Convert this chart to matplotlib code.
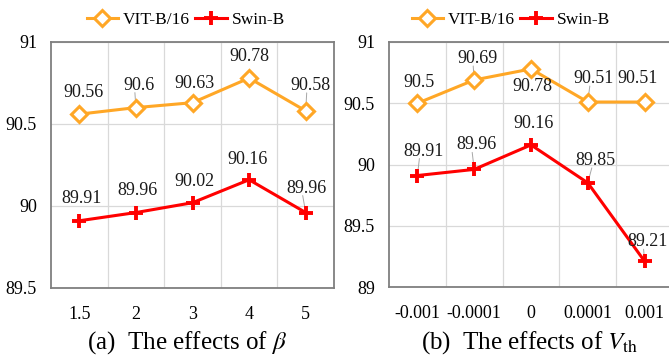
import numpy as np
import matplotlib
matplotlib.use("Agg")
import matplotlib.pyplot as plt
from matplotlib.lines import Line2D

plt.rcParams['font.family'] = ['Liberation Serif', 'DejaVu Serif']
plt.rcParams['mathtext.fontset'] = 'stix'

# ================= DATA =================
beta_labels = ['1.5', '2', '3', '4', '5']
beta_vit = [90.56, 90.6, 90.63, 90.78, 90.58]
beta_swin = [89.91, 89.96, 90.02, 90.16, 89.96]

vth_labels = ['-0.001', '-0.0001', '0', '0.0001', '0.001']
vth_vit = [90.5, 90.69, 90.78, 90.51, 90.51]
vth_swin = [89.91, 89.96, 90.16, 89.85, 89.21]

# label offsets in pixels (dx, dy), dy<0 means label below the point
beta_vit_off = [(4, 13), (3, 14), (2, 11), (0, 13), (5, 17)]
beta_swin_off = [(2, 14), (2, 14), (2, 13), (-2, 12), (1, 16)]
vth_vit_off = [(2, 12), (3, 13), (1, -9), (6, 15), (-7, 15)]
vth_swin_off = [(6, 16), (2, 16), (3, 13), (8, 14), (3, 11)]

# which labels get a small leader line
beta_vit_lead = [0, 1, 0, 0, 1]
beta_swin_lead = [0, 0, 0, 0, 1]
vth_vit_lead = [0, 1, 0, 1, 0]
vth_swin_lead = [1, 1, 0, 1, 1]

ORANGE = '#FFA726'
RED = '#FF0000'
GRID = '#D9D9D9'
SPINE = '#7F7F7F'

fig = plt.figure(figsize=(6.69, 3.6), dpi=100)

W, H = 669, 360


def px_axes(left, top, right, bottom):
    return fig.add_axes([left / W, 1 - bottom / H, (right - left) / W, (bottom - top) / H])


def draw_panel(ax, labels, vit, swin, vit_off, swin_off, vit_lead, swin_lead, ylim, yticks):
    x = np.arange(1, len(labels) + 1)
    ax.plot(x, vit, color=ORANGE, lw=2.2, marker='D', ms=8.5, mfc='white',
            mec=ORANGE, mew=2.2, zorder=3)
    ax.plot(x, swin, color=RED, lw=2.2, marker='+', ms=10, mew=2.8, zorder=3)
    for ys, offs, leads in [(vit, vit_off, vit_lead), (swin, swin_off, swin_lead)]:
        for xi, yi, (dx, dy), ld in zip(x, ys, offs, leads):
            ax.annotate(f'{yi:g}', (xi, yi), xytext=(dx, dy), textcoords='offset pixels',
                        ha='center', va='bottom' if dy > 0 else 'top',
                        fontsize=13, color='#1a1a1a', zorder=4)
            if ld:
                ax.annotate('', (xi, yi), xytext=(dx - 4, dy + 1), textcoords='offset pixels',
                            arrowprops=dict(arrowstyle='-', color='#A6A6A6', lw=0.7,
                                            shrinkA=0, shrinkB=3), zorder=2)
    ax.set_xlim(0.5, len(labels) + 0.5)
    ax.set_ylim(*ylim)
    ax.set_yticks(yticks)
    ax.set_yticklabels([f'{t:g}' for t in yticks])
    ax.set_xticks(x)
    ax.set_xticklabels(labels)
    ax.set_xticks(np.arange(1.5, len(labels)), minor=True)
    ax.grid(False)
    ax.grid(True, which='minor', axis='x', color=GRID, lw=0.9)
    ax.grid(True, which='major', axis='y', color=GRID, lw=0.9)
    ax.set_axisbelow(True)
    ax.tick_params(which='both', length=0)
    ax.tick_params(axis='y', pad=10, labelsize=13)
    ax.tick_params(axis='x', pad=13, labelsize=13)
    for s in ax.spines.values():
        s.set_color(SPINE)
        s.set_linewidth(1.3)


ax1 = px_axes(51, 42, 334, 288)
draw_panel(ax1, beta_labels, beta_vit, beta_swin, beta_vit_off, beta_swin_off,
           beta_vit_lead, beta_swin_lead, (89.5, 91), [89.5, 90, 90.5, 91])

ax2 = px_axes(389, 42, 673, 287)
draw_panel(ax2, vth_labels, vth_vit, vth_swin, vth_vit_off, vth_swin_off,
           vth_vit_lead, vth_swin_lead, (89, 91), [89, 89.5, 90, 90.5, 91])

handles = [
    Line2D([], [], color=ORANGE, lw=2.2, marker='D', ms=8, mfc='white', mec=ORANGE, mew=2.2),
    Line2D([], [], color=RED, lw=2.2, marker='+', ms=10, mew=2.8),
]
for cx in [186, 511]:
    fig.legend(handles, ['VIT-B/16', 'Swin-B'], loc='center', bbox_to_anchor=(cx / W, 1 - 20 / H),
               ncol=2, frameon=False, fontsize=12.5, handlelength=1.8, handletextpad=0.3,
               columnspacing=0.3, borderaxespad=0)

fig.text(187 / W, 1 - 343 / H, r'(a)  The effects of $\beta$', ha='center', va='center', fontsize=18)
fig.text(530 / W, 1 - 343 / H, r'(b)  The effects of $V_{\mathrm{th}}$', ha='center', va='center', fontsize=18)

fig.savefig('out.png', dpi=100)
